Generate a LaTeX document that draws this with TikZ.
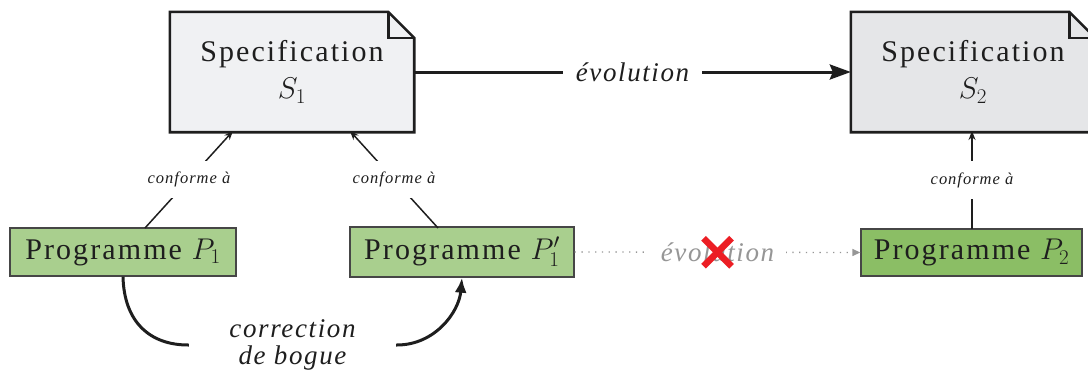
\RequirePackage{fix-cm}
\documentclass[tikz,border=0pt]{standalone}
\usepackage{fontspec}
\setmainfont{Liberation Serif}
\newfontfamily\lsfont{Liberation Serif}[LetterSpace=7]
\newfontfamily\lsifont{Liberation Serif}[LetterSpace=6]
\usetikzlibrary{arrows.meta,backgrounds}
\definecolor{txt}{RGB}{30,30,30}
\definecolor{specA}{RGB}{240,241,243}
\definecolor{specB}{RGB}{229,230,232}
\definecolor{progA}{RGB}{169,207,142}
\definecolor{progB}{RGB}{139,190,101}
\definecolor{progline}{RGB}{70,70,70}
\definecolor{crossred}{RGB}{236,30,36}
\definecolor{ghost}{RGB}{150,150,150}
\begin{document}
\begin{tikzpicture}[x=1pt,y=-1pt,
  spec/.style={minimum width=244pt,minimum height=120pt,inner sep=0pt,align=center,
    text=txt,font=\lsfont\fontsize{30}{37}\selectfont},
  prog/.style={draw=progline,line width=1.3pt,inner sep=0pt,text=txt,
    font=\lsfont\fontsize{30}{32}\selectfont},
  conf/.style={draw=txt,line width=1.5pt,-{Stealth[length=9pt,width=7pt]}},
  conflabel/.style={fill=white,inner xsep=2pt,inner ysep=11pt,text=txt,
    font=\lsifont\itshape\fontsize{16.5}{18}\selectfont},
  evo/.style={draw=txt,line width=3pt,-{Stealth[length=21pt,width=15pt,inset=3pt]}},
  evolabel/.style={fill=white,inner xsep=13pt,inner ysep=4pt,text=txt,
    font=\lsifont\itshape\fontsize{27}{30}\selectfont},
  ghostarrow/.style={draw=ghost,line width=1.3pt,dash pattern=on 1.3pt off 5.5pt,
    -{Triangle[length=8pt,width=7pt]}},
  ghostlabel/.style={fill=white,inner xsep=12pt,inner ysep=4pt,text=ghost,
    font=\lsifont\itshape\fontsize{27}{30}\selectfont},
  crossline/.style={draw=crossred,line width=6.5pt},
  bug/.style={draw=txt,line width=3pt,-{Latex[length=15pt,width=12pt]}},
  buglabel/.style={fill=white,align=center,inner xsep=40pt,inner ysep=2pt,text=txt,
    font=\lsifont\itshape\fontsize{27}{27}\selectfont}]
\useasboundingbox (0,0) rectangle (1088,372);

\node[spec] (S1) at (292,72) {Specification\\$S_1$};
\node[spec] (S2) at (973,72) {Specification\\$S_2$};

\begin{scope}[on background layer]
\foreach \n/\c in {S1/specA,S2/specB}{
  \filldraw[fill=\c,draw=txt,line width=2.6pt,line join=miter]
    (\n.north west) -- ([xshift=-26pt]\n.north east) -- ([yshift=-26pt]\n.north east)
    -- (\n.south east) -- (\n.south west) -- cycle;
  \draw[txt,line width=2.6pt] ([xshift=-26pt]\n.north east) |- ([yshift=-26pt]\n.north east);
}
\end{scope}

\node[prog,fill=progA,minimum width=226pt,minimum height=48pt] (P1) at (123,252) {Programme $P_1$};
\node[prog,fill=progA,minimum width=224pt,minimum height=50pt] (P1p) at (462,252) {Programme $P'_1$};
\node[prog,fill=progB,minimum width=221pt,minimum height=47pt] (P2) at (971.5,252.5) {Programme $P_2$};

\coordinate (c1) at (145,228);
\coordinate (c2) at (233,131);
\coordinate (c3) at (438,228);
\coordinate (c4) at (350,131);
\coordinate (c5) at (972,229);
\coordinate (c6) at (972,131);

\draw[conf] (c1) -- node[conflabel]{conforme à} (c2);
\draw[conf] (c3) -- node[conflabel]{conforme à} (c4);
\draw[conf] (c5) -- node[conflabel]{conforme à} (c6);

\draw[evo] (S1.east) -- node[evolabel]{évolution} (S2.west);

\draw[ghostarrow] (P1p.east) -- node[ghostlabel] (E2) {évolution} (P2.west);
\draw[crossline] ([shift={(-14pt,14pt)}]E2.center) -- ([shift={(14pt,-14pt)}]E2.center);
\draw[crossline] ([shift={(-14pt,-14pt)}]E2.center) -- ([shift={(14pt,14pt)}]E2.center);

\draw[bug] (P1.south) .. controls (124,322) and (150,345) .. (188,345)
  -- node[buglabel]{correction\\de bogue} (397,345)
  .. controls (435,345) and (459,312) .. (P1p.south);
\end{tikzpicture}
\end{document}
